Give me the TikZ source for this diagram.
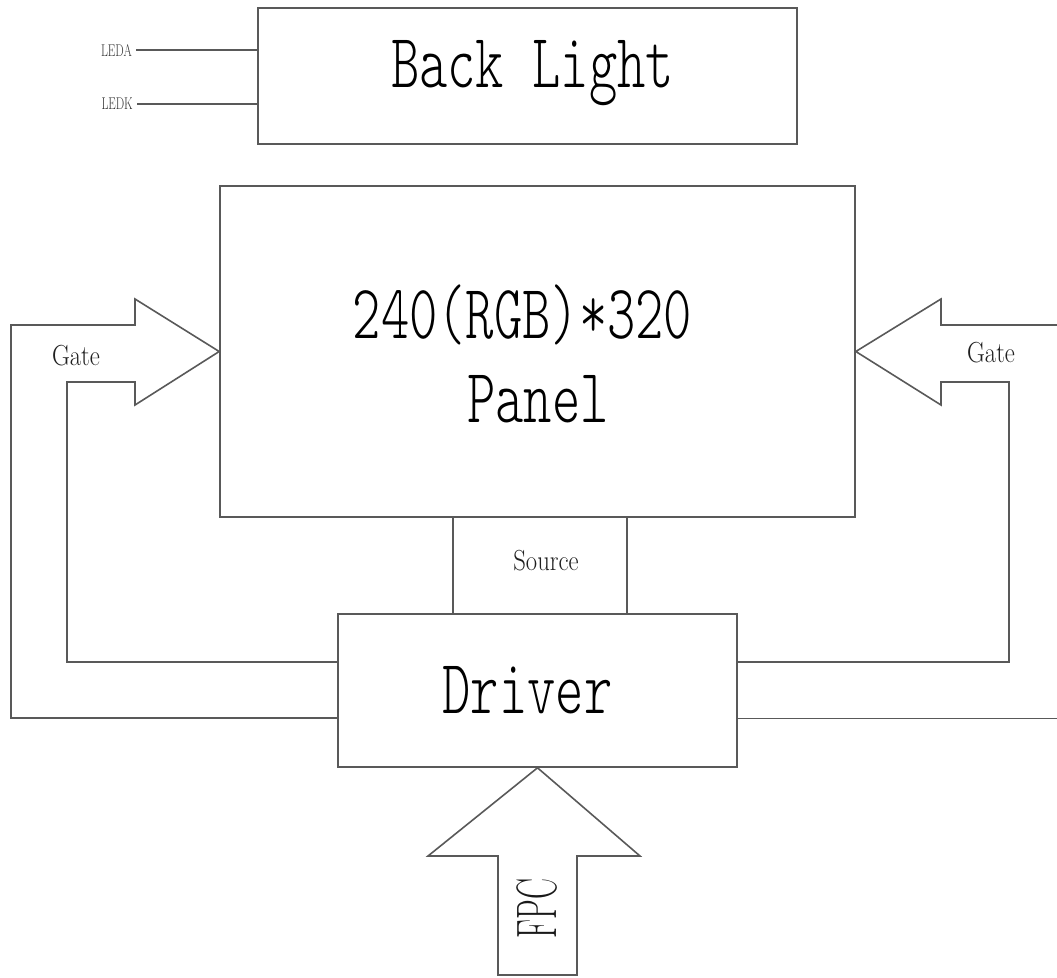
\documentclass[tikz,border=0pt]{standalone}
\usepackage{fontspec}
\usepackage{graphicx}
\usetikzlibrary{calc}
\newfontfamily\monolight{lmmonolt10-regular.otf}
\begin{document}
\begin{tikzpicture}[x=1pt,y=-1pt,
  wire/.style={draw=black!65,line width=1.6pt,line join=miter},
  blockbox/.style={wire,rectangle,inner sep=0pt},
  bigtext/.style={inner sep=0pt,text=black,font=\monolight\fontsize{77}{80}\selectfont},
  smalltext/.style={inner sep=0pt,text=black!88,font=\rmfamily\fontsize{29}{30}\selectfont},
  tinytext/.style={inner sep=0pt,text=black!80,font=\rmfamily\fontsize{17}{18}\selectfont}]
\useasboundingbox (0,0) rectangle (1057,977);
% blocks
\node[blockbox,minimum width=539pt,minimum height=136pt] (backlight) at (527.5,76) {};
\node[blockbox,minimum width=635pt,minimum height=331pt] (panel) at (537.5,351.5) {};
\node[blockbox,minimum width=174pt,minimum height=97pt] (source) at (540,565.5) {};
\node[blockbox,minimum width=399pt,minimum height=153pt] (driver) at (537.5,690.5) {};
% block texts
\node[bigtext,anchor=base] (bltext) at (532.5,87) {\scalebox{0.7}[1]{Back Light}};
\node[bigtext,anchor=base] (restext) at (522.5,338) {\scalebox{0.7}[1]{240(RGB)*320}};
\node[bigtext,anchor=base] (paneltext) at (538,422) {\scalebox{0.7}[1]{Panel}};
\node[bigtext,anchor=base] (drivertext) at (527.5,713) {\scalebox{0.7}[1]{Driver}};
\node[smalltext,anchor=base] (sourcetext) at (546,570) {\scalebox{0.85}[1]{Source}};
% LED inputs
\node[tinytext,anchor=east,inner xsep=4pt] (leda) at (136,50) {\scalebox{0.7}[1]{LEDA}};
\node[tinytext,anchor=east,inner xsep=4pt] (ledk) at (137,104) {\scalebox{0.7}[1]{LEDK}};
\draw[wire] (leda.east) -- (leda.east -| backlight.west);
\draw[wire] (ledk.east) -- (ledk.east -| backlight.west);
% left gate arrow
\draw[wire] ($(driver.west)+(0,27.5)$) -| (11,325) -- (135,325) -- (135,299)
  -- (panel.west) -- (135,405) -- (135,382) -- (67,382) |- ($(driver.west)+(0,-28.5)$);
\node[smalltext,anchor=base] (gateL) at (76,365) {\scalebox{0.85}[1]{Gate}};
% right gate arrow
\draw[wire] (1057,325) -- (941,325) -- (941,299) -- (panel.east) -- (941,405)
  -- (941,382) -- (1009,382) |- ($(driver.east)+(0,-28.5)$);
\draw[wire] ($(driver.east)+(0,28)$) -- (1057,718.5);
\node[smalltext,anchor=base] (gateR) at (991,362) {\scalebox{0.85}[1]{Gate}};
% FPC arrow
\draw[wire] (498,975) -- (498,856) -- (428,856) -- (driver.south) -- (640,856)
  -- (577,856) -- (577,975) -- cycle;
\node[inner sep=0pt,text=black!90,font=\rmfamily\fontsize{57}{60}\selectfont,rotate=90] (fpc) at (537.5,908.5) {\scalebox{0.55}[1]{FPC}};
\end{tikzpicture}
\end{document}
